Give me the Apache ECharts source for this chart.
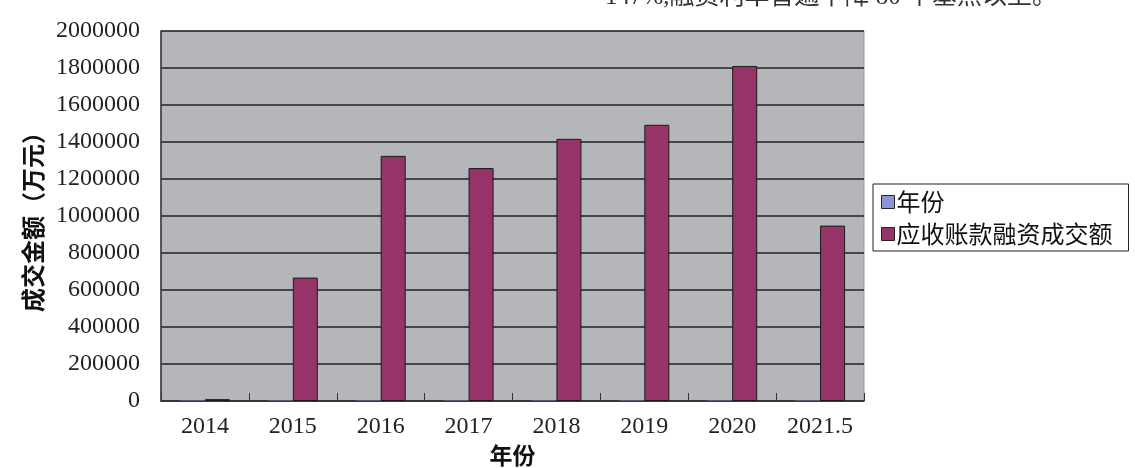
<!DOCTYPE html>
<html>
<head>
<meta charset="utf-8">
<script src="https://cdn.jsdelivr.net/npm/echarts@6/dist/echarts.min.js"></script>
<style>
html,body{margin:0;padding:0;background:#fff;}
#c{width:1135px;height:468px;}
</style>
</head>
<body>
<div id="c"></div>
<script>
var categories = ['2014', '2015', '2016', '2017', '2018', '2019', '2020', '2021.5'];
var yearValues = [2014, 2015, 2016, 2017, 2018, 2019, 2020, 2021.5];
var financingValues = [10000, 667000, 1325000, 1259000, 1417000, 1493000, 1811000, 948000];
var yTicks = { min: 0, max: 2000000, interval: 200000 };

var chart = echarts.init(document.getElementById('c'));
var numFont = '"Liberation Serif", "DejaVu Serif", serif';
var cjkFont = '"Noto Sans CJK SC", sans-serif';
chart.setOption({
  animation: false,
  backgroundColor: '#ffffff',
  graphic: [{
    type: 'text',
    left: 605,
    top: -15,
    style: {
      text: '147%,融资利率普遍下降 80 个基点以上。',
      font: '25px "Liberation Serif", "Noto Sans CJK SC", serif',
      fill: '#333333'
    }
  }],
  grid: {
    left: 161, right: 271, top: 31, bottom: 67,
    outerBoundsMode: 'none',
    containLabel: false,
    show: true,
    backgroundColor: '#b5b6ba',
    borderColor: '#9a9a9a',
    borderWidth: 1
  },
  legend: {
    orient: 'vertical',
    left: 873,
    top: 184,
    padding: [6, 16, 5, 8],
    itemGap: 8,
    itemWidth: 13,
    itemHeight: 13,
    icon: 'rect',
    backgroundColor: '#ffffff',
    borderColor: '#222222',
    borderWidth: 1,
    borderRadius: 0,
    textStyle: { fontFamily: cjkFont, fontSize: 24, color: '#111', padding: [0, 0, 0, -3] },
    data: [
      { name: '年份', itemStyle: { color: '#8f93d8', borderColor: '#222', borderWidth: 1 } },
      { name: '应收账款融资成交额', itemStyle: { color: '#96346a', borderColor: '#222', borderWidth: 1 } }
    ]
  },
  xAxis: {
    type: 'category',
    data: categories,
    name: '年份',
    nameLocation: 'middle',
    nameGap: 43,
    nameTextStyle: { fontFamily: cjkFont, fontSize: 23, fontWeight: 'bold', color: '#111' },
    axisLine: { lineStyle: { color: '#333', width: 1.5 } },
    axisTick: { show: true, inside: true, length: 8, interval: 0, lineStyle: { color: '#333' } },
    axisLabel: { interval: 0, margin: 14, fontFamily: numFont, fontSize: 24, color: '#222' }
  },
  yAxis: {
    type: 'value',
    min: yTicks.min,
    max: yTicks.max,
    interval: yTicks.interval,
    name: '成交金额（万元）',
    nameLocation: 'middle',
    nameRotate: 90,
    nameGap: 103,
    nameTextStyle: { fontFamily: cjkFont, fontSize: 24, fontWeight: 'bold', color: '#111' },
    axisLine: { show: true, lineStyle: { color: '#333', width: 1.5 } },
    axisTick: { show: false },
    axisLabel: {
      margin: 21, fontFamily: numFont, fontSize: 24, color: '#222',
      formatter: function (v) { return String(v); }
    },
    splitLine: { show: true, lineStyle: { color: '#222222', width: 1.6 } }
  },
  series: [
    {
      name: '年份',
      type: 'bar',
      data: yearValues,
      barWidth: 25,
      barGap: '0%',
      itemStyle: { color: '#8f93d8', borderWidth: 0 }
    },
    {
      name: '应收账款融资成交额',
      type: 'bar',
      data: financingValues,
      barWidth: 25,
      barGap: '0%',
      itemStyle: { color: '#96346a', borderColor: '#1a1a1a', borderWidth: 1 }
    }
  ]
});
</script>
</body>
</html>
